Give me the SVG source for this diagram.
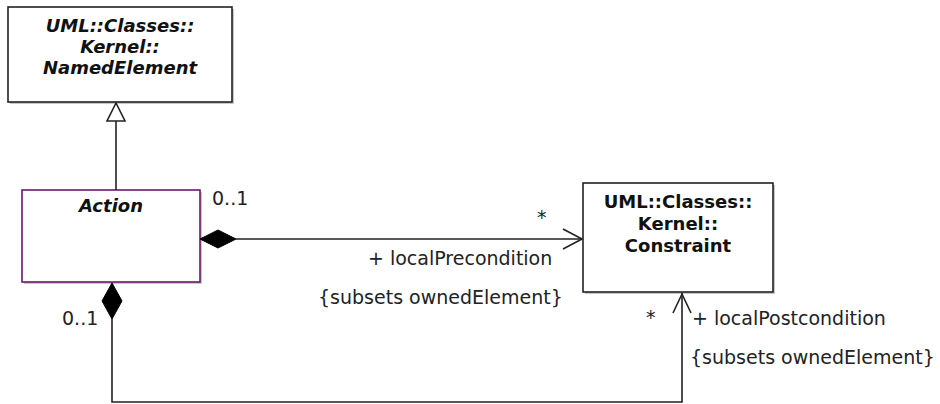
<svg xmlns="http://www.w3.org/2000/svg" width="940" height="404" viewBox="0 0 940 404">
<style>
.shadow{fill:#c8c8c8;stroke:none}
.box{fill:#fff;stroke:#222;stroke-width:1.6}
.abox{fill:#fff;stroke:#6a1a6a;stroke-width:1.6}
.cn{font-family:"DejaVu Sans",Verdana,sans-serif;font-size:18px;font-weight:bold;fill:#111;text-anchor:middle}
.it{font-style:italic}
.lbl{font-family:"DejaVu Sans",Verdana,sans-serif;font-size:19px;fill:#222}
.ln{fill:none;stroke:#222;stroke-width:1.6}
</style>
<rect width="940" height="404" fill="#fff"/>
<g id="NamedElement">
<rect class="shadow" x="10" y="9" width="224" height="95"/>
<rect class="box" x="8" y="7" width="224" height="95"/>
<text class="cn it" x="120" y="32">UML::Classes::</text>
<text class="cn it" x="120" y="53">Kernel::</text>
<text class="cn it" x="120" y="74">NamedElement</text>
</g>
<g id="Action">
<rect class="shadow" x="24" y="192" width="178" height="92"/>
<rect class="abox" x="22" y="190" width="178" height="92"/>
<text class="cn it" x="111" y="212">Action</text>
</g>
<g id="Constraint">
<rect class="shadow" x="585" y="185" width="190" height="109"/>
<rect class="box" x="583" y="183" width="190" height="109"/>
<text class="cn" x="678" y="208">UML::Classes::</text>
<text class="cn" x="678" y="230">Kernel::</text>
<text class="cn" x="678" y="252">Constraint</text>
</g>
<g id="connectors">
<line class="ln" x1="116" y1="190" x2="116" y2="121"/>
<polygon points="116,103 107,121 125,121" fill="#fff" stroke="#222" stroke-width="1.6"/>
<polygon points="200,239 218,230 236,239 218,248" fill="#000" stroke="#000" stroke-width="1"/>
<line class="ln" x1="236" y1="239" x2="582" y2="239"/>
<polyline class="ln" points="563,229 582,239 563,249"/>
<polygon points="112,283 122,301 112,319 102,301" fill="#000" stroke="#000" stroke-width="1"/>
<polyline class="ln" points="112,319 112,402 682,402 682,293"/>
<polyline class="ln" points="673,313 682,294 691,313"/>
</g>
<g id="labels">
<text class="lbl" x="212" y="205">0..1</text>
<text class="lbl" x="537" y="224">*</text>
<text class="lbl" x="368" y="265">+ localPrecondition</text>
<text class="lbl" x="318" y="304">{subsets ownedElement}</text>
<text class="lbl" x="62" y="325">0..1</text>
<text class="lbl" x="646" y="324">*</text>
<text class="lbl" x="692" y="325">+ localPostcondition</text>
<text class="lbl" x="690" y="364">{subsets ownedElement}</text>
</g>
</svg>
